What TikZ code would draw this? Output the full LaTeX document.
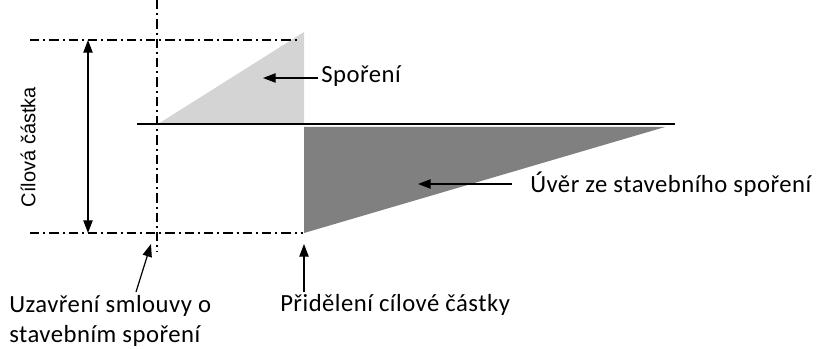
\documentclass[tikz,border=0pt]{standalone}
\usepackage{fontspec}
\setmainfont{Carlito}[LetterSpace=2]
\newfontfamily\arialf{Liberation Sans}
\usetikzlibrary{arrows.meta}
\begin{document}
\begin{tikzpicture}[x=0.75pt,y=-0.75pt,
  dashdot/.style={line width=0.8pt,dash pattern=on 7pt off 3pt on 1.5pt off 3pt},
  tip/.style={-{Triangle[length=9.5pt,width=7pt]},line width=0.9pt},
  lbl/.style={font=\fontsize{18.5}{22.5}\selectfont,inner sep=0pt,anchor=base west}]
\useasboundingbox (0,0) rectangle (817,349);
% fills
\fill[black!17] (158,124) -- (304,32) -- (304,124) -- cycle;
\fill[black!50] (304,127) -- (665,127) -- (304,233) -- cycle;
% dash-dot guides
\draw[dashdot] (157,0) -- (157,252);
\draw[dashdot] (30,40) -- (300,40);
\draw[dashdot] (30,233) -- (303,233);
% base line
\draw[line width=0.8pt] (137,124) -- (675,124);
% dimension arrow
\coordinate (dtop) at (88,40);
\coordinate (dbot) at (88,233);
\draw[{Triangle[length=9.5pt,width=7pt]}-{Triangle[length=9.5pt,width=7pt]},line width=0.9pt] (dtop) -- (dbot);
\node[rotate=90,font=\arialf\fontsize{15}{18}\selectfont,inner sep=0pt] (cil) at (28,147) {Cílová částka};
% labels
\node[lbl] (spor) at (321,83) {Spoření};
\coordinate (sporT) at (263,78);
\draw[tip] (318,78) -- (sporT);
\node[lbl] (uver) at (530,193) {Úvěr ze stavebního spoření};
\coordinate (uverT) at (418,184);
\draw[tip] (512,184) -- (uverT);
\node[lbl] (prid) at (280,311) {Přidělení cílové částky};
\coordinate (pridT) at (304,244);
\draw[tip] (304,292) -- (pridT);
\node[lbl] (uzav) at (9,312) {Uzavření smlouvy o};
\node[lbl] (uzav2) at (9,342) {stavebním spoření};
\coordinate (uzavT) at (151,244);
\draw[tip] (136,292) -- (uzavT);
\end{tikzpicture}
\end{document}
